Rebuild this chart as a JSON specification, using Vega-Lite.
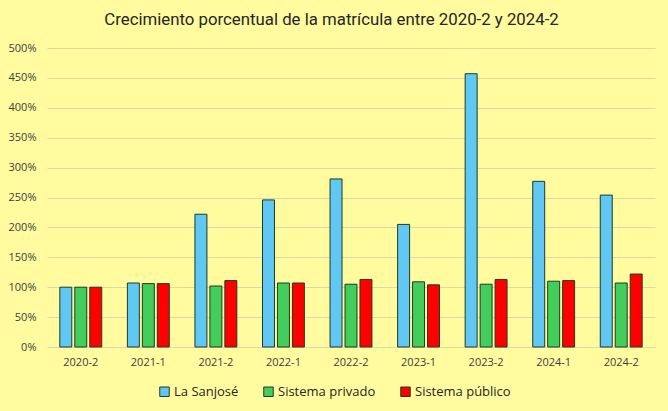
{
  "$schema": "https://vega.github.io/schema/vega-lite/v6.json",
  "width": 608,
  "height": 299,
  "autosize": "none",
  "padding": {"left": 47, "top": 48, "right": 13, "bottom": 64},
  "background": "#FFFB9E",
  "title": {
    "text": "Crecimiento porcentual de la matrícula entre 2020-2 y 2024-2",
    "font": "Roboto",
    "fontSize": 16.8,
    "fontWeight": "normal",
    "color": "#262626",
    "anchor": "middle",
    "frame": "bounds",
    "offset": 13
  },
  "data": {
    "values": [
      {"periodo": "2020-2", "serie": "La Sanjosé", "valor": 1.00},
      {"periodo": "2020-2", "serie": "Sistema privado", "valor": 1.00},
      {"periodo": "2020-2", "serie": "Sistema público", "valor": 1.00},
      {"periodo": "2021-1", "serie": "La Sanjosé", "valor": 1.07},
      {"periodo": "2021-1", "serie": "Sistema privado", "valor": 1.06},
      {"periodo": "2021-1", "serie": "Sistema público", "valor": 1.06},
      {"periodo": "2021-2", "serie": "La Sanjosé", "valor": 2.22},
      {"periodo": "2021-2", "serie": "Sistema privado", "valor": 1.02},
      {"periodo": "2021-2", "serie": "Sistema público", "valor": 1.11},
      {"periodo": "2022-1", "serie": "La Sanjosé", "valor": 2.46},
      {"periodo": "2022-1", "serie": "Sistema privado", "valor": 1.07},
      {"periodo": "2022-1", "serie": "Sistema público", "valor": 1.07},
      {"periodo": "2022-2", "serie": "La Sanjosé", "valor": 2.81},
      {"periodo": "2022-2", "serie": "Sistema privado", "valor": 1.05},
      {"periodo": "2022-2", "serie": "Sistema público", "valor": 1.13},
      {"periodo": "2023-1", "serie": "La Sanjosé", "valor": 2.05},
      {"periodo": "2023-1", "serie": "Sistema privado", "valor": 1.09},
      {"periodo": "2023-1", "serie": "Sistema público", "valor": 1.04},
      {"periodo": "2023-2", "serie": "La Sanjosé", "valor": 4.57},
      {"periodo": "2023-2", "serie": "Sistema privado", "valor": 1.05},
      {"periodo": "2023-2", "serie": "Sistema público", "valor": 1.13},
      {"periodo": "2024-1", "serie": "La Sanjosé", "valor": 2.77},
      {"periodo": "2024-1", "serie": "Sistema privado", "valor": 1.10},
      {"periodo": "2024-1", "serie": "Sistema público", "valor": 1.11},
      {"periodo": "2024-2", "serie": "La Sanjosé", "valor": 2.54},
      {"periodo": "2024-2", "serie": "Sistema privado", "valor": 1.07},
      {"periodo": "2024-2", "serie": "Sistema público", "valor": 1.22}
    ]
  },
  "mark": {"type": "bar", "stroke": "#1F3A28", "strokeWidth": 1},
  "encoding": {
    "x": {
      "field": "periodo",
      "type": "nominal",
      "sort": null,
      "title": null,
      "scale": {"paddingInner": 0.38, "paddingOuter": 0.19},
      "axis": {
        "labelAngle": 0,
        "labelFont": "Open Sans",
        "labelFontSize": 11,
        "labelColor": "#404040",
        "labelPadding": 9,
        "ticks": false,
        "domain": false
      }
    },
    "xOffset": {
      "field": "serie",
      "type": "nominal",
      "scale": {"paddingInner": 0.2, "paddingOuter": 0}
    },
    "y": {
      "field": "valor",
      "type": "quantitative",
      "title": null,
      "scale": {"domain": [0, 5], "nice": false},
      "axis": {
        "values": [0, 0.5, 1, 1.5, 2, 2.5, 3, 3.5, 4, 4.5, 5],
        "format": ".0%",
        "labelFont": "Open Sans",
        "labelFontSize": 11,
        "labelColor": "#404040",
        "labelPadding": 11,
        "ticks": false,
        "domain": false,
        "gridColor": "#DCD9A8",
        "gridWidth": 1
      }
    },
    "color": {
      "field": "serie",
      "type": "nominal",
      "title": null,
      "scale": {
        "domain": ["La Sanjosé", "Sistema privado", "Sistema público"],
        "range": ["#61C7F3", "#43CE5C", "#FF0000"]
      },
      "legend": {
        "orient": "none",
        "legendX": 111,
        "legendY": 337,
        "direction": "horizontal",
        "symbolType": "square",
        "symbolSize": 90,
        "symbolStrokeColor": "#1F3A28",
        "symbolStrokeWidth": 1,
        "labelFont": "Open Sans",
        "labelFontSize": 13,
        "labelColor": "#262626",
        "labelOffset": 3,
        "columnPadding": 22
      }
    }
  },
  "config": {
    "view": {"stroke": null}
  }
}
